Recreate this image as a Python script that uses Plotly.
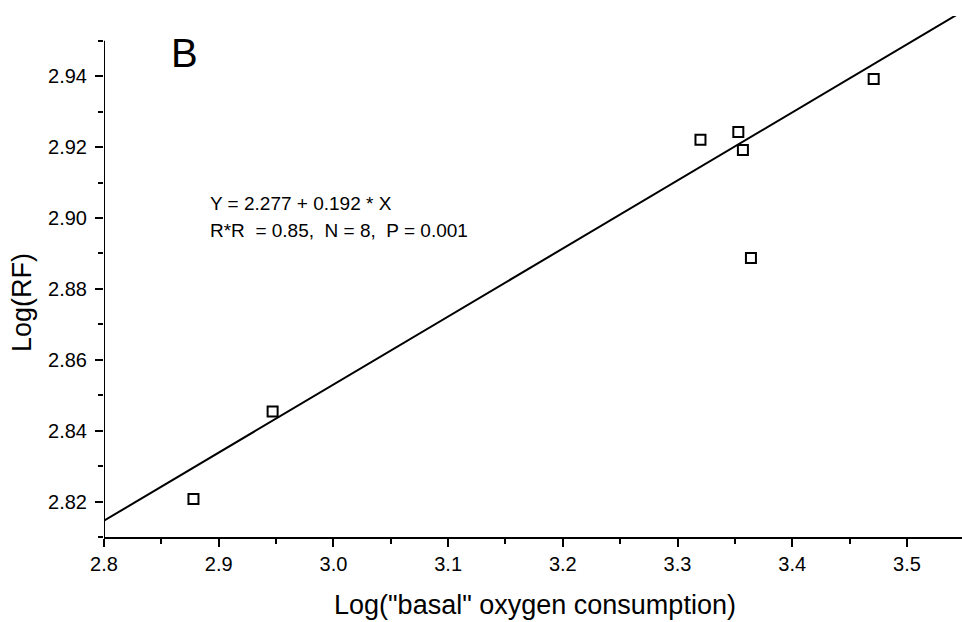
import plotly.graph_objects as go

# Measured points
log_oxygen = [2.878, 2.947, 3.320, 3.353, 3.357, 3.364, 3.471]
log_rf = [2.8207, 2.8454, 2.9221, 2.9243, 2.9192, 2.8887, 2.9392]

# Linear regression Y = a + b * X
intercept = 2.277
slope = 0.192
fit_x = [2.8, 3.548]
fit_y = [intercept + slope * x for x in fit_x]

x_range = [2.8, 3.548]
y_range = [2.81, 2.957]
y_axis_top = 2.95

FONT = "Liberation Sans, Arial, sans-serif"

fig = go.Figure()

fig.add_trace(go.Scatter(
    x=fit_x, y=fit_y, mode="lines",
    line=dict(color="black", width=2),
    showlegend=False, hoverinfo="skip",
))

fig.add_trace(go.Scatter(
    x=log_oxygen, y=log_rf, mode="markers",
    marker=dict(symbol="square-open", size=10, color="black",
                line=dict(color="black", width=2)),
    showlegend=False,
))

# Y axis line stops at 2.95 while the plot area extends a bit higher
fig.add_shape(type="line", xref="x", yref="y",
              x0=x_range[0], x1=x_range[0], y0=y_range[0], y1=y_axis_top,
              line=dict(color="black", width=2))

fig.update_xaxes(
    range=x_range, showgrid=False, zeroline=False,
    showline=True, linecolor="black", linewidth=2,
    ticks="outside", ticklen=8, tickwidth=2, tickcolor="black",
    dtick=0.1, tick0=2.8, tickformat=".1f",
    minor=dict(ticks="outside", ticklen=5, tickwidth=2, tickcolor="black", dtick=0.05),
    tickfont=dict(family=FONT, size=20, color="black"),
)
fig.update_yaxes(
    range=y_range, showgrid=False, zeroline=False, showline=False,
    ticks="outside", ticklen=8, tickwidth=2, tickcolor="black",
    dtick=0.02, tick0=2.82, tickformat=".2f",
    minor=dict(ticks="outside", ticklen=5, tickwidth=2, tickcolor="black", dtick=0.01),
    tickfont=dict(family=FONT, size=20, color="black"),
    ticklabelstandoff=4,
)

annotations = [
    dict(text='Log("basal" oxygen consumption)', x=0.502, y=-0.1305,
         xref="paper", yref="paper", xanchor="center", yanchor="middle",
         showarrow=False, font=dict(family=FONT, size=27, color="black")),
    dict(text="Log(RF)", x=-0.0956, y=0.451, textangle=-90,
         xref="paper", yref="paper", xanchor="center", yanchor="middle",
         showarrow=False, font=dict(family=FONT, size=27, color="black")),
    dict(text="B", x=0.0944, y=0.929,
         xref="paper", yref="paper", xanchor="center", yanchor="middle",
         showarrow=False, font=dict(family=FONT, size=40, color="black")),
    dict(text="Y = 2.277 + 0.192 * X", x=0.1212, y=0.641,
         xref="paper", yref="paper", xanchor="left", yanchor="middle",
         showarrow=False, font=dict(family=FONT, size=19, color="black")),
    dict(text="R*R\u00a0 = 0.85,\u00a0 N = 8,\u00a0 P = 0.001", x=0.1212, y=0.589,
         xref="paper", yref="paper", xanchor="left", yanchor="middle",
         showarrow=False, font=dict(family=FONT, size=19, color="black")),
]

fig.update_layout(
    width=962, height=622,
    margin=dict(l=104, r=0, t=16, b=85),
    paper_bgcolor="white", plot_bgcolor="white",
    annotations=annotations,
    font=dict(family=FONT, color="black"),
)

fig.write_html("out.html")
